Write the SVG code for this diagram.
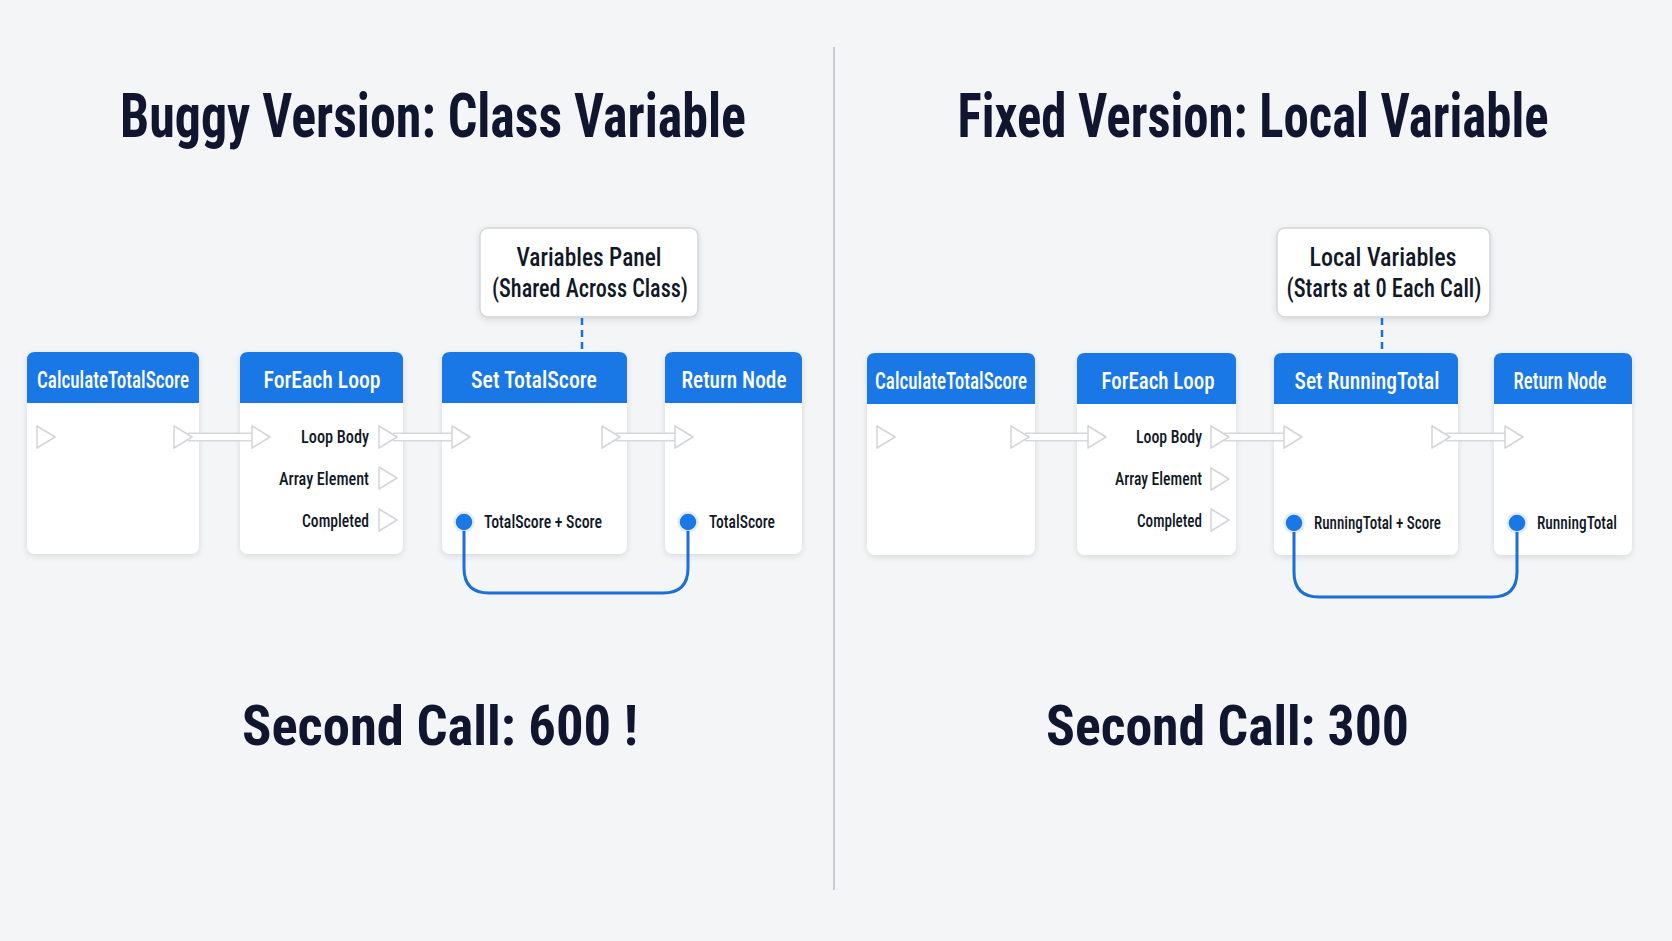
<svg xmlns="http://www.w3.org/2000/svg" width="1672" height="941" viewBox="0 0 1672 941">
<defs>
<filter id="sh" x="-10%" y="-10%" width="120%" height="130%">
<feDropShadow dx="0" dy="2" stdDeviation="3" flood-color="#000" flood-opacity="0.12"/>
</filter>
<style>
.bg{fill:#f4f5f7}
.body{fill:#ffffff;filter:url(#sh)}
.hdr{fill:#1a78e6}
.ht{font-family:"Liberation Sans Narrow","Roboto Condensed","DejaVu Sans Condensed",Roboto,sans-serif;font-size:23px;fill:#ffffff;text-anchor:middle;font-weight:500}
.pl{font-family:"Liberation Sans Narrow","Roboto Condensed","DejaVu Sans Condensed",Roboto,sans-serif;font-size:18px;fill:#111827;font-weight:500}
.title{font-family:"Liberation Sans Narrow","Roboto Condensed","DejaVu Sans Condensed",Roboto,sans-serif;font-weight:bold;font-size:62px;fill:#111630;text-anchor:middle}
.res{font-family:"Liberation Sans Narrow","Roboto Condensed","DejaVu Sans Condensed",Roboto,sans-serif;font-weight:bold;font-size:56px;fill:#111630}
.vt{font-family:"Liberation Sans Narrow","Roboto Condensed","DejaVu Sans Condensed",Roboto,sans-serif;font-size:25px;fill:#111827;text-anchor:middle;font-weight:500}
.vbox{fill:#ffffff;stroke:#d4d6da;stroke-width:1.5;filter:url(#sh)}
.pin{fill:#ffffff;stroke:#d3d5d9;stroke-width:1.5;stroke-linejoin:round}
.dpin{fill:#1a78e6;stroke:#e3ecf8;stroke-width:2.5}
.wire{fill:none;stroke:#1a6fd8;stroke-width:3}
.dash{stroke:#1a6fd8;stroke-width:2.5;stroke-dasharray:7,5}
.eo{stroke:#d6d8dc;stroke-width:9}
.ei{stroke:#ffffff;stroke-width:6}
.div{stroke:#c8cacf;stroke-width:2}
</style>
</defs>
<rect class="bg" x="0" y="0" width="1672" height="941"/>
<line class="div" x1="834" y1="47" x2="834" y2="890"/>

<g id="titles">
<text class="title" x="433" y="137" textLength="626" lengthAdjust="spacingAndGlyphs">Buggy Version: Class Variable</text>
<text class="title" x="1253" y="137" textLength="591" lengthAdjust="spacingAndGlyphs">Fixed Version: Local Variable</text>
<text class="res" x="242" y="745" textLength="396" lengthAdjust="spacingAndGlyphs">Second Call: 600 !</text>
<text class="res" x="1046" y="745" textLength="363" lengthAdjust="spacingAndGlyphs">Second Call: 300</text>
</g>

<g id="b-vars">
<rect class="vbox" x="480" y="228" width="218" height="89" rx="8"/>
<text class="vt" x="589" y="266" textLength="145" lengthAdjust="spacingAndGlyphs">Variables Panel</text>
<text class="vt" x="590" y="297" textLength="196" lengthAdjust="spacingAndGlyphs">(Shared Across Class)</text>
</g>
<g id="f-vars">
<rect class="vbox" x="1277" y="228" width="213" height="89" rx="8"/>
<text class="vt" x="1383" y="266" textLength="147" lengthAdjust="spacingAndGlyphs">Local Variables</text>
<text class="vt" x="1384" y="297" textLength="195" lengthAdjust="spacingAndGlyphs">(Starts at 0 Each Call)</text>
</g>

<g id="b-calc">
<rect class="body" x="27" y="352" width="172" height="202" rx="8"/>
<path class="hdr" d="M27,403 V360 Q27,352 35,352 H191 Q199,352 199,360 V403 Z"/>
<text class="ht" x="113" y="388" textLength="152" lengthAdjust="spacingAndGlyphs">CalculateTotalScore</text>
<polygon class="pin" points="37,426 55,437 37,448"/>
</g>
<g id="b-foreach">
<rect class="body" x="240" y="352" width="163" height="202" rx="8"/>
<path class="hdr" d="M240,403 V360 Q240,352 248,352 H395 Q403,352 403,360 V403 Z"/>
<text class="ht" x="322" y="388" textLength="117" lengthAdjust="spacingAndGlyphs">ForEach Loop</text>
<text class="pl" x="369" y="443" text-anchor="end" textLength="68" lengthAdjust="spacingAndGlyphs">Loop Body</text>
<text class="pl" x="369" y="485" text-anchor="end" textLength="90" lengthAdjust="spacingAndGlyphs">Array Element</text>
<text class="pl" x="369" y="527" text-anchor="end" textLength="67" lengthAdjust="spacingAndGlyphs">Completed</text>
<polygon class="pin" points="379,467 397,478 379,489"/>
<polygon class="pin" points="379,509 397,520 379,531"/>
</g>
<g id="b-set">
<rect class="body" x="442" y="352" width="185" height="202" rx="8"/>
<path class="hdr" d="M442,403 V360 Q442,352 450,352 H619 Q627,352 627,360 V403 Z"/>
<text class="ht" x="534" y="388" textLength="126" lengthAdjust="spacingAndGlyphs">Set TotalScore</text>
<circle class="dpin" cx="464" cy="522" r="9.5"/>
<text class="pl" x="484" y="528" textLength="118" lengthAdjust="spacingAndGlyphs">TotalScore + Score</text>
</g>
<g id="b-return">
<rect class="body" x="665" y="352" width="137" height="202" rx="8"/>
<path class="hdr" d="M665,403 V360 Q665,352 673,352 H794 Q802,352 802,360 V403 Z"/>
<text class="ht" x="734" y="388" textLength="105" lengthAdjust="spacingAndGlyphs">Return Node</text>
<circle class="dpin" cx="688" cy="522" r="9.5"/>
<text class="pl" x="709" y="528" textLength="66" lengthAdjust="spacingAndGlyphs">TotalScore</text>
</g>

<g id="f-calc">
<rect class="body" x="867" y="353" width="168" height="202" rx="8"/>
<path class="hdr" d="M867,404 V361 Q867,353 875,353 H1027 Q1035,353 1035,361 V404 Z"/>
<text class="ht" x="951" y="389" textLength="152" lengthAdjust="spacingAndGlyphs">CalculateTotalScore</text>
<polygon class="pin" points="877,426 895,437 877,448"/>
</g>
<g id="f-foreach">
<rect class="body" x="1077" y="353" width="159" height="202" rx="8"/>
<path class="hdr" d="M1077,404 V361 Q1077,353 1085,353 H1228 Q1236,353 1236,361 V404 Z"/>
<text class="ht" x="1158" y="389" textLength="113" lengthAdjust="spacingAndGlyphs">ForEach Loop</text>
<text class="pl" x="1202" y="443" text-anchor="end" textLength="66" lengthAdjust="spacingAndGlyphs">Loop Body</text>
<text class="pl" x="1202" y="485" text-anchor="end" textLength="87" lengthAdjust="spacingAndGlyphs">Array Element</text>
<text class="pl" x="1202" y="527" text-anchor="end" textLength="65" lengthAdjust="spacingAndGlyphs">Completed</text>
<polygon class="pin" points="1211,468 1229,479 1211,490"/>
<polygon class="pin" points="1211,509 1229,520 1211,531"/>
</g>
<g id="f-set">
<rect class="body" x="1274" y="353" width="184" height="202" rx="8"/>
<path class="hdr" d="M1274,404 V361 Q1274,353 1282,353 H1450 Q1458,353 1458,361 V404 Z"/>
<text class="ht" x="1367" y="389" textLength="145" lengthAdjust="spacingAndGlyphs">Set RunningTotal</text>
<circle class="dpin" cx="1294" cy="523" r="9.5"/>
<text class="pl" x="1314" y="529" textLength="127" lengthAdjust="spacingAndGlyphs">RunningTotal + Score</text>
</g>
<g id="f-return">
<rect class="body" x="1494" y="353" width="138" height="202" rx="8"/>
<path class="hdr" d="M1494,404 V361 Q1494,353 1502,353 H1624 Q1632,353 1632,361 V404 Z"/>
<text class="ht" x="1560" y="389" textLength="93" lengthAdjust="spacingAndGlyphs">Return Node</text>
<circle class="dpin" cx="1517" cy="523" r="9.5"/>
<text class="pl" x="1537" y="529" textLength="80" lengthAdjust="spacingAndGlyphs">RunningTotal</text>
</g>

<g id="connectors">
<line class="eo" x1="188" y1="437" x2="255" y2="437"/><line class="ei" x1="187" y1="437" x2="256" y2="437"/>
<line class="eo" x1="393" y1="437" x2="455" y2="437"/><line class="ei" x1="392" y1="437" x2="456" y2="437"/>
<line class="eo" x1="616" y1="437" x2="678" y2="437"/><line class="ei" x1="615" y1="437" x2="679" y2="437"/>
<line class="eo" x1="1025" y1="437" x2="1091" y2="437"/><line class="ei" x1="1024" y1="437" x2="1092" y2="437"/>
<line class="eo" x1="1224" y1="437" x2="1287" y2="437"/><line class="ei" x1="1223" y1="437" x2="1288" y2="437"/>
<line class="eo" x1="1446" y1="437" x2="1508" y2="437"/><line class="ei" x1="1445" y1="437" x2="1509" y2="437"/>
<g id="exec-pins">
<polygon class="pin" points="174,426 192,437 174,448"/>
<polygon class="pin" points="252,426 270,437 252,448"/>
<polygon class="pin" points="379,426 397,437 379,448"/>
<polygon class="pin" points="452,426 470,437 452,448"/>
<polygon class="pin" points="602,426 620,437 602,448"/>
<polygon class="pin" points="675,426 693,437 675,448"/>
<polygon class="pin" points="1011,426 1029,437 1011,448"/>
<polygon class="pin" points="1088,426 1106,437 1088,448"/>
<polygon class="pin" points="1211,426 1229,437 1211,448"/>
<polygon class="pin" points="1284,426 1302,437 1284,448"/>
<polygon class="pin" points="1432,426 1450,437 1432,448"/>
<polygon class="pin" points="1505,426 1523,437 1505,448"/>
</g>
<path class="wire" d="M464,531 V568 Q464,593 489,593 H663 Q688,593 688,568 V531"/>
<path class="wire" d="M1294,532 V572 Q1294,597 1319,597 H1492 Q1517,597 1517,572 V532"/>
<line class="dash" x1="582" y1="318" x2="582" y2="352"/>
<line class="dash" x1="1382" y1="318" x2="1382" y2="353"/>
</g>
</svg>
